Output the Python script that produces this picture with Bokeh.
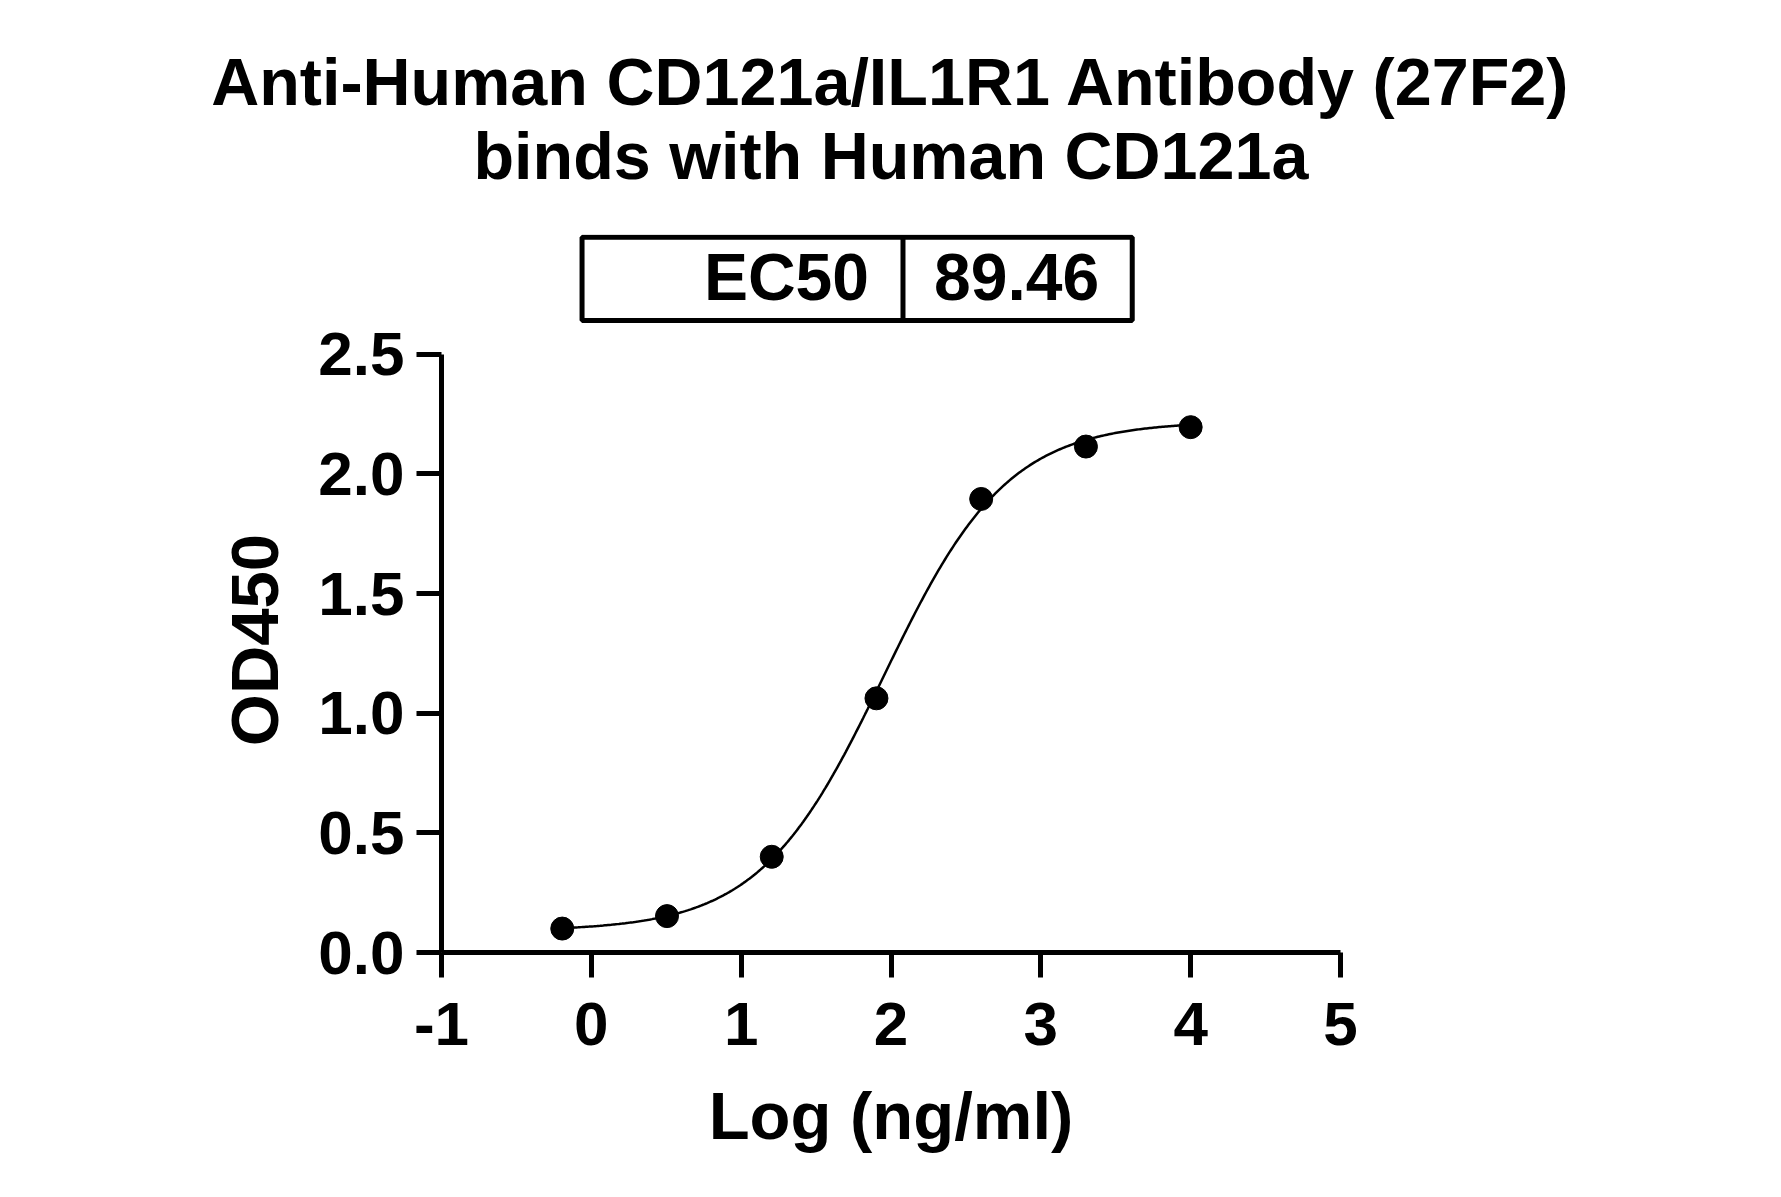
import numpy as np
from bokeh.plotting import figure
from bokeh.models import Range1d, FixedTicker, Title
from bokeh.core.properties import value
from bokeh.embed import file_html
from bokeh.resources import INLINE

# ---- data ----
title_lines = ["Anti-Human CD121a/IL1R1 Antibody (27F2)", "binds with Human CD121a"]
ec50_label = "EC50"
ec50_value = "89.46"
log_conc = [-0.194, 0.505, 1.204, 1.903, 2.602, 3.301, 4.0]
od450 = [0.100, 0.152, 0.400, 1.062, 1.895, 2.114, 2.195]
x_ticks = [-1, 0, 1, 2, 3, 4, 5]
x_tick_labels = ["-1", "0", "1", "2", "3", "4", "5"]
y_ticks = [0.0, 0.5, 1.0, 1.5, 2.0, 2.5]
y_tick_labels = ["0.0", "0.5", "1.0", "1.5", "2.0", "2.5"]
# 4PL fit parameters
fit_bottom = 0.09
fit_top = 2.22
fit_log_ec50 = float(np.log10(89.46))
fit_hill = 1.05

FONT = "Liberation Sans"
W, H = 1765, 1181

p = figure(width=W, height=H, output_backend="svg", toolbar_location=None,
           x_range=Range1d(-1, 5), y_range=Range1d(0, 3.0),
           min_border_left=441, min_border_right=425, min_border_top=234, min_border_bottom=229,
           outline_line_color=None)
p.grid.visible = False

# two-line title: a small blank spacer nearest the plot, then line 2, then line 1
spacer = Title(text="\u00a0", align="center", text_font=FONT, text_font_size="10px",
               text_color="white", standoff=29)
t2 = Title(text=title_lines[1], align="center", text_font=FONT, text_font_style="bold",
           text_font_size="66.5px", text_color="black", standoff=0)
t1 = Title(text=title_lines[0], align="center", text_font=FONT, text_font_style="bold",
           text_font_size="66.5px", text_color="black", standoff=-5)
p.add_layout(spacer, "above")
p.add_layout(t2, "above")
p.add_layout(t1, "above")

# EC50 table (drawn inside the frame, above the y-axis bounds)
tb_left, tb_right, tb_top, tb_bottom, tb_div = -0.062, 3.61, 2.989, 2.641, 2.08
p.quad(left=[tb_left], right=[tb_right], top=[tb_top], bottom=[tb_bottom],
       fill_color=None, line_color="black", line_width=5)
p.segment(x0=[tb_div], y0=[tb_bottom], x1=[tb_div], y1=[tb_top], line_color="black", line_width=5)
p.text(x=[1.853], y=[2.822], text=[ec50_label], text_font=value(FONT), text_font_style="bold",
       text_font_size="66px", text_align="right", text_baseline="middle")
p.text(x=[2.287], y=[2.822], text=[ec50_value], text_font=value(FONT), text_font_style="bold",
       text_font_size="66px", text_align="left", text_baseline="middle")

# fitted curve + points
xc = np.linspace(min(log_conc), max(log_conc), 400)
yc = fit_bottom + (fit_top - fit_bottom) / (1 + 10 ** ((fit_log_ec50 - xc) * fit_hill))
p.line(xc, yc, line_color="black", line_width=2.5)
p.scatter(log_conc, od450, size=23, fill_color="black", line_color="black")

for ax in (p.xaxis[0], p.yaxis[0]):
    ax.axis_line_width = 5
    ax.major_tick_line_width = 5
    ax.major_tick_out = 25
    ax.major_tick_in = 0
    ax.minor_tick_out = 0
    ax.minor_tick_in = 0
    ax.major_label_text_font = FONT
    ax.major_label_text_font_style = "bold"
    ax.major_label_text_font_size = "62px"
    ax.major_label_text_color = "black"
    ax.axis_label_text_font = FONT
    ax.axis_label_text_font_style = "bold"
    ax.axis_label_text_font_size = "67px"
    ax.axis_label_text_color = "black"
    ax.axis_line_color = "black"
    ax.major_tick_line_color = "black"

p.yaxis.bounds = (0, 2.5)
p.xaxis.ticker = FixedTicker(ticks=x_ticks)
p.yaxis.ticker = FixedTicker(ticks=y_ticks)
p.xaxis.major_label_overrides = {t: l for t, l in zip(x_ticks, x_tick_labels)}
p.yaxis.major_label_overrides = {t: l for t, l in zip(y_ticks, y_tick_labels)}
p.xaxis.axis_label = "Log (ng/ml)"
# trailing no-break spaces keep the label centred on the 0-2.5 part of the axis
p.yaxis.axis_label = "OD450" + "\u00a0" * 5
p.xaxis.major_label_standoff = 25
p.yaxis.major_label_standoff = 12
p.xaxis.axis_label_standoff = 30
p.yaxis.axis_label_standoff = 23

open("out.html", "w").write(file_html(p, INLINE))
